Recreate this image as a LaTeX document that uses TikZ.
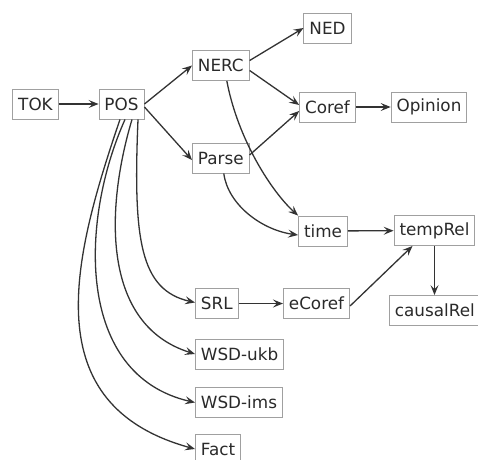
\documentclass[tikz,border=0pt]{standalone}
\usepackage{fontspec}
\setmainfont{DejaVu Sans}
\usetikzlibrary{arrows.meta,calc}
\definecolor{boxgray}{HTML}{A0A0A0}
\definecolor{edgegray}{HTML}{333333}
\definecolor{txtgray}{HTML}{2A2A2A}
\begin{document}
\begin{tikzpicture}[x=1pt,y=-1pt,
  procbox/.style={draw=boxgray,line width=0.9pt,fill=white,inner xsep=5.5pt,inner ysep=0pt,
    minimum height=30pt,text=txtgray,font=\fontsize{16.8}{18}\selectfont},
  edgearrow/.style={draw=edgegray,line width=1.3pt,
    -{Stealth[length=10pt,width=8pt,inset=4pt]}}]
\useasboundingbox (0,0) rectangle (478,459);
\clip (0,0) rectangle (478,459);
\node[procbox] (tok) at (35.5,104) {TOK};
\node[procbox] (pos) at (121.5,104) {POS};
\node[procbox,anchor=west] (nerc) at (192,65.5) {NERC};
\node[procbox,anchor=west] (parse) at (192,158) {Parse};
\node[procbox] (ned) at (327.5,28) {NED};
\node[procbox] (coref) at (327.5,107) {Coref};
\node[procbox] (opinion) at (429,107) {Opinion};
\node[procbox] (time) at (323,231) {time};
\node[procbox] (temprel) at (434.5,230.5) {tempRel};
\node[procbox,anchor=west] (causalrel) at (389,310.5) {causalRel};
\node[procbox] (ecoref) at (316.5,303.5) {eCoref};
\node[procbox,anchor=west] (srl) at (195,303.5) {SRL};
\node[procbox,anchor=west] (wsdukb) at (195,354) {WSD-ukb};
\node[procbox,anchor=west] (wsdims) at (195,402.5) {WSD-ims};
\node[procbox,anchor=west] (fact) at (195,449) {Fact};

\draw[edgearrow] (tok) -- (pos);
\draw[edgearrow] (pos.east) -- (nerc.west);
\draw[edgearrow] ($(pos.east)+(0,3)$) -- ($(parse.west)+(0,2)$);
\draw[edgearrow] ($(nerc.east)+(0,-5)$) -- (ned.west);
\draw[edgearrow] ($(nerc.east)+(0,5)$) -- ($(coref.west)+(0,-2)$);
\draw[edgearrow] ($(parse.east)+(0,-3)$) -- ($(coref.west)+(0,4)$);
\draw[edgearrow] (coref) -- (opinion);
\draw[edgearrow] ($(nerc.south)+(6,0)$) .. controls (238,140) and (272,192) .. (time.north west);
\draw[edgearrow] ($(parse.south)+(3,0)$) .. controls (228,205) and (262,230) .. ($(time.west)+(0,4)$);
\draw[edgearrow] (time) -- (temprel);
\draw[edgearrow] ($(pos.south)+(16.5,0)$) .. controls (133,240) and (140,290) .. ($(srl.west)+(0,-1)$);
\draw[edgearrow] ($(pos.south)+(10.5,0)$) .. controls (105,210) and (102,325) .. (wsdukb.west);
\draw[edgearrow] ($(pos.south)+(3.5,0)$) .. controls (80,220) and (75,375) .. (wsdims.west);
\draw[edgearrow] ($(pos.south)+(-1.5,0)$) .. controls (72,260) and (35,405) .. (fact.west);
\draw[edgearrow] (srl) -- (ecoref);
\draw[edgearrow] ($(ecoref.east)+(0,2.5)$) -- ($(temprel.south)+(-22,0)$);
\draw[edgearrow] (temprel.south) -- (temprel.south |- causalrel.north);
\end{tikzpicture}
\end{document}
